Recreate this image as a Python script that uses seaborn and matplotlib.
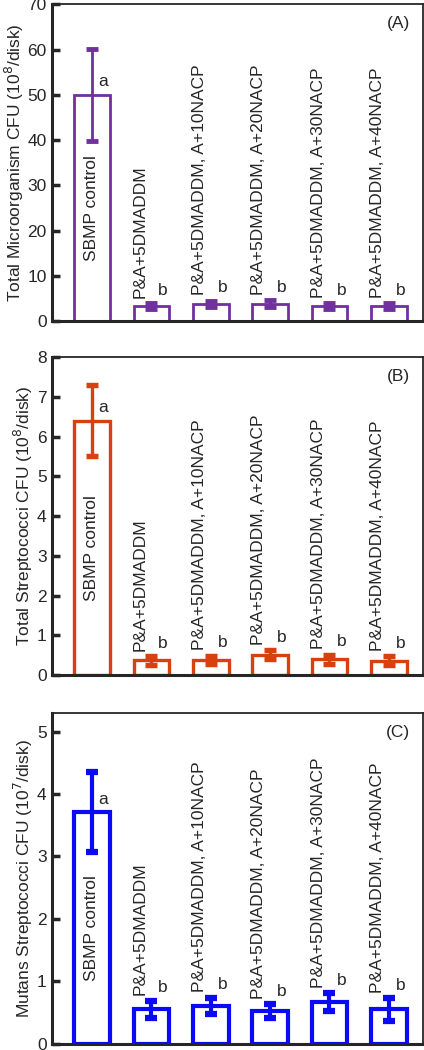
import matplotlib
matplotlib.use("Agg")
import matplotlib.pyplot as plt
import numpy as np
import pandas as pd
import seaborn as sns

sns.set_theme(style="ticks")
plt.rcParams["font.family"] = ["Liberation Sans", "DejaVu Sans"]

# ── Data ──────────────────────────────────────────────────────────────────────
groups = [
    "SBMP control",
    "P&A+5DMADDM",
    "P&A+5DMADDM, A+10NACP",
    "P&A+5DMADDM, A+20NACP",
    "P&A+5DMADDM, A+30NACP",
    "P&A+5DMADDM, A+40NACP",
]
letters = ["a", "b", "b", "b", "b", "b"]

total_micro = [50.0, 3.4, 3.9, 3.9, 3.4, 3.4]
total_micro_err = [10.1, 0.6, 0.65, 0.7, 0.6, 0.6]

total_strep = [6.4, 0.37, 0.38, 0.51, 0.40, 0.36]
total_strep_err = [0.9, 0.11, 0.11, 0.11, 0.11, 0.11]

mutans_strep = [3.71, 0.55, 0.61, 0.52, 0.67, 0.55]
mutans_strep_err = [0.64, 0.14, 0.13, 0.11, 0.14, 0.18]

panels = [
    ("(A)", "Total Microorganism CFU (10$^{8}$/disk)", total_micro, total_micro_err,
     "#7030A0", (0, 70), np.arange(0, 71, 10), 2.0),
    ("(B)", "Total Streptococci CFU (10$^{8}$/disk)", total_strep, total_strep_err,
     "#D9400F", (0, 8), np.arange(0, 9, 1), 2.4),
    ("(C)", "Mutans Streptococci CFU (10$^{7}$/disk)", mutans_strep, mutans_strep_err,
     "#0A0AF5", (0, 5.3), np.arange(0, 6, 1), 3.0),
]

# axes boxes in figure fraction [left, bottom, width, height]
boxes = [
    [0.123, 0.694, 0.874, 0.302],
    [0.123, 0.357, 0.874, 0.303],
    [0.123, 0.006, 0.874, 0.315],
]

fig = plt.figure(figsize=(4.24, 10.5), dpi=100)

for box, (tag, ylabel, vals, errs, color, ylim, yticks, lw) in zip(boxes, panels):
    ax = fig.add_axes(box)
    df = pd.DataFrame({"group": groups, "value": vals})
    sns.barplot(data=df, x="group", y="value", order=groups, fill=False,
                color=color, width=0.6, errorbar=None, linewidth=lw, ax=ax)
    for p in ax.patches:
        p.set_edgecolor(color)
        p.set_linewidth(lw)
    x = np.arange(len(groups))
    ax.errorbar(x, vals, yerr=errs, fmt="none", ecolor=color, elinewidth=lw,
                capsize=4, capthick=lw + 1.5, zorder=3)

    ax.set_xlim(-0.67, 5.57)
    ax.set_ylim(*ylim)
    ax.set_yticks(yticks)
    ax.set_xticks([])
    ax.set_xlabel("")
    ax.set_ylabel(ylabel, fontsize=12.5, labelpad=1)
    ax.tick_params(axis="y", direction="in", length=6, width=2.5, labelsize=12.5, pad=4)
    for side in ["top", "right"]:
        ax.spines[side].set_linewidth(1.3)
    for side in ["left", "bottom"]:
        ax.spines[side].set_linewidth(2.2)

    # rotated group labels and significance letters
    for i, (g, v, e, let) in enumerate(zip(groups, vals, errs, letters)):
        if i == 0:
            ax.text(i, v * 0.5, g, rotation=90, ha="center", va="center", fontsize=12.5)
            ax.annotate(let, (i + 0.19, v), xytext=(0, 4), textcoords="offset points",
                        ha="center", va="bottom", fontsize=12.5)
        else:
            ax.annotate(g, (i - 0.19, v + e), xytext=(0, 4), textcoords="offset points",
                        rotation=90, ha="center", va="bottom", fontsize=12.5)
            ax.annotate(let, (i + 0.2, v + e), xytext=(0, 4), textcoords="offset points",
                        ha="center", va="bottom", fontsize=12.5)

    ax.text(0.965, 0.94, tag, transform=ax.transAxes, ha="right", va="center", fontsize=12.5)

fig.savefig("out.png", dpi=100)
